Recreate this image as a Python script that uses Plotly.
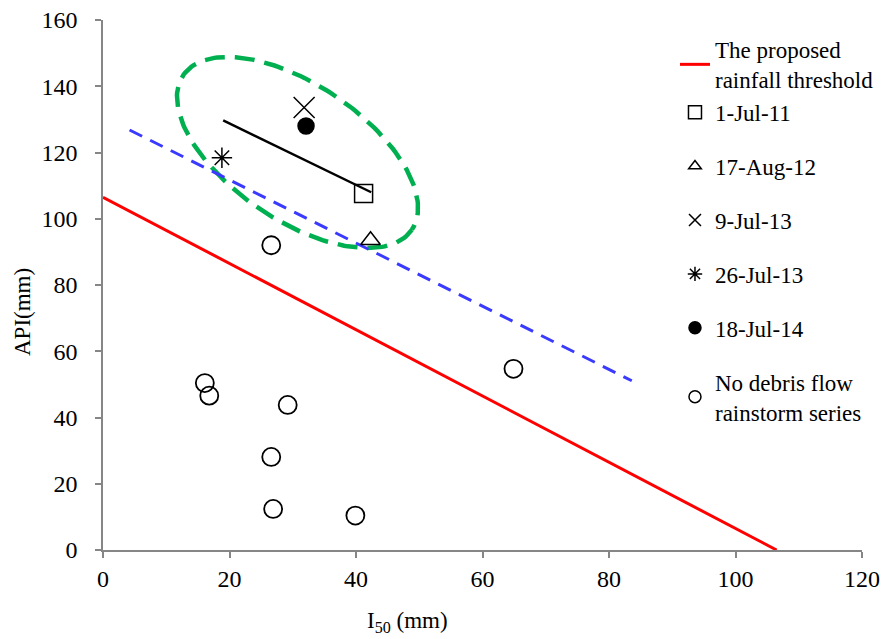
import numpy as np
import plotly.graph_objects as go

# ---- data ----
threshold_x = [0, 106.5]
threshold_y = [106.5, 0]

blue_x = [4.2, 83.6]
blue_y = [126.8, 51.1]

black_x = [19.0, 42.4]
black_y = [129.7, 108.0]

ev_names = ["1-Jul-11", "17-Aug-12", "9-Jul-13", "26-Jul-13", "18-Jul-14"]
ev_x = [41.2, 42.3, 31.8, 18.8, 32.1]
ev_y = [107.6, 93.5, 133.6, 118.4, 128.0]

nodf_x = [26.6, 16.1, 16.8, 29.2, 26.6, 26.9, 39.9, 64.9]
nodf_y = [92.0, 50.4, 46.6, 43.8, 28.1, 12.4, 10.4, 54.7]

# ellipse (center in data units, semi-axes in px, rotation deg)
ell_center = (30.75, 120.0)
ell_axes_px = (138, 68)
ell_angle = 34

# ---- figure ----
FONT = "Liberation Serif, Times New Roman, serif"
fig = go.Figure()

px_per_x = 759 / 120
px_per_y = 530 / 160
t = np.linspace(0, 2 * np.pi, 200)
a, b = ell_axes_px
th = np.deg2rad(ell_angle)
dx = a * np.cos(t) * np.cos(th) - b * np.sin(t) * np.sin(th)
dy = a * np.cos(t) * np.sin(th) + b * np.sin(t) * np.cos(th)
ex = ell_center[0] + dx / px_per_x
ey = ell_center[1] - dy / px_per_y

fig.add_trace(go.Scatter(x=ex, y=ey, mode="lines", showlegend=False, hoverinfo="skip",
                         line=dict(color="#00B050", width=4.5, dash="20px,10px")))
fig.add_trace(go.Scatter(x=blue_x, y=blue_y, mode="lines", showlegend=False,
                         line=dict(color="#3A3AFF", width=3, dash="14px,9px")))
fig.add_trace(go.Scatter(x=black_x, y=black_y, mode="lines", showlegend=False,
                         line=dict(color="black", width=2.5)))
fig.add_trace(go.Scatter(x=threshold_x, y=threshold_y, mode="lines",
                         name="The proposed<br>rainfall threshold", legendgroup="g0",
                         line=dict(color="#FF0000", width=3)))

symbols = ["square-open", "triangle-up-open", "x-thin-open", "asterisk-open", "circle"]
sizes = [18, 17, 21, 17, 16]
leg_sizes = [13, 11, 12, 12, 12]
groups = ["g0", "g1", "g2", "g3", "g4"]
for i, nm in enumerate(ev_names):
    fig.add_trace(go.Scatter(x=[ev_x[i]], y=[ev_y[i]], mode="markers", showlegend=False,
                             marker=dict(symbol=symbols[i], size=sizes[i], color="black",
                                         line=dict(color="black", width=1.5))))
    fig.add_trace(go.Scatter(x=[None], y=[None], mode="markers", name=nm, legendgroup=groups[i],
                             marker=dict(symbol=symbols[i], size=leg_sizes[i], color="black",
                                         line=dict(color="black", width=1.5))))

fig.add_trace(go.Scatter(x=nodf_x, y=nodf_y, mode="markers", showlegend=False,
                         marker=dict(symbol="circle-open", size=18, color="black",
                                     line=dict(color="black", width=1.8))))
fig.add_trace(go.Scatter(x=[None], y=[None], mode="markers", name="No debris flow<br>rainstorm series",
                         legendgroup="g5",
                         marker=dict(symbol="circle-open", size=12, color="black",
                                     line=dict(color="black", width=1.5))))

axis_common = dict(showgrid=False, zeroline=False, showline=True, linecolor="#868686",
                   linewidth=1.5, ticks="outside", ticklen=6, tickcolor="#868686", tickwidth=1.5,
                   automargin=False,
                   tickfont=dict(family=FONT, size=24, color="black"))

fig.update_layout(
    width=882, height=639,
    margin=dict(l=103, r=20, t=20, b=89, autoexpand=False),
    paper_bgcolor="white", plot_bgcolor="white",
    font=dict(family=FONT, color="black"),
    xaxis=dict(range=[0, 120], dtick=20, **axis_common),
    yaxis=dict(range=[0, 160], dtick=20, ticklabelstandoff=13, **axis_common),
    legend=dict(x=0.7536, y=0.985, xanchor="left", yanchor="top",
                font=dict(family=FONT, size=23, color="black"),
                tracegroupgap=21, bgcolor="rgba(0,0,0,0)"),
    annotations=[
        dict(text="I<sub>50</sub> (mm)", xref="paper", yref="paper",
             x=(407 - 103) / 759, y=(550 - 622) / 530, xanchor="center", yanchor="middle",
             showarrow=False, font=dict(family=FONT, size=23)),
        dict(text="API(mm)", xref="paper", yref="paper",
             x=(22 - 103) / 759, y=(550 - 312) / 530, xanchor="center", yanchor="middle",
             textangle=-90, showarrow=False,
             font=dict(family=FONT, size=23)),
    ],
)

fig.write_html("out.html", config={"displayModeBar": False},
               post_script="document.body.style.margin='0px';")
